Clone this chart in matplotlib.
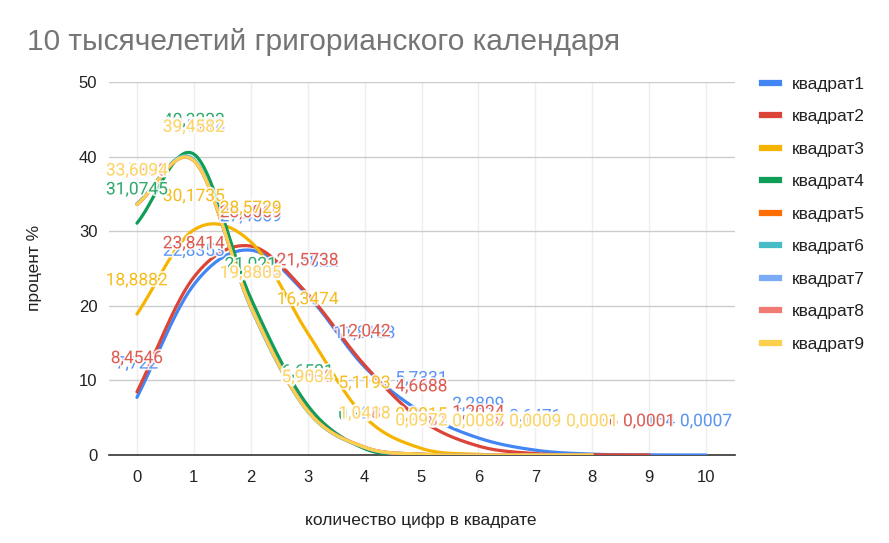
"""
Распределение количества цифр в квадрате
за 10 тысячелетий григорианского календаря.
"""
import numpy as np
import matplotlib
matplotlib.use("Agg")
import matplotlib.pyplot as plt
import matplotlib.patheffects as pe
from matplotlib.lines import Line2D

# данные (процент)
title = "10 тысячелетий григорианского календаря"
x_name = "количество цифр в квадрате"
y_name = "процент %"
x_ticks = [0, 1, 2, 3, 4, 5, 6, 7, 8, 9, 10]
y_ticks = [0, 10, 20, 30, 40, 50]

names = ["квадрат1", "квадрат2", "квадрат3", "квадрат4", "квадрат5",
         "квадрат6", "квадрат7", "квадрат8", "квадрат9"]
colors = ["#4285F4", "#DB4437", "#F4B400", "#0F9D58", "#FF6D01",
          "#46BDC6", "#7BAAF7", "#F07B72", "#FCD04F"]

sq1 = [7.722, 22.8353, 27.4569, 21.3822, 11.8123, 5.7331, 2.2809, 0.6471, 0.1141, 0.0154, 0.0007]
sq2 = [8.4546, 23.8414, 28.0069, 21.5738, 12.042, 4.6688, 1.2024, 0.1914, 0.0186, 0.0001]
sq3 = [18.8882, 30.1735, 28.5729, 16.3474, 5.1193, 0.8815, 0.0891, 0.0072, 0.0001]
sq4 = [31.0745, 40.3333, 21.021, 6.6521, 0.8488, 0.0652, 0.0048, 0.0003, 0.0001]
sq5 = [33.6094, 39.4582, 19.8805, 5.9034, 1.0418, 0.0972, 0.0087, 0.0009, 0.0001]
sq6 = [33.7012, 39.6021, 19.7511, 5.8517, 1.0035, 0.0903, 0.0081, 0.0008, 0.0001]
sq7 = [33.6517, 39.5034, 19.8482, 5.9011, 1.0208, 0.0921, 0.0083, 0.0008, 0.0001]
sq8 = [33.5833, 39.4217, 19.9034, 5.9508, 1.0488, 0.0981, 0.0088, 0.0009, 0.0001]
sq9 = [33.6094, 39.4582, 19.8805, 5.9034, 1.0418, 0.0972, 0.0087, 0.0009, 0.0001]
series = [sq1, sq2, sq3, sq4, sq5, sq6, sq7, sq8, sq9]

FONT = ["Liberation Sans", "DejaVu Sans"]
plt.rcParams["font.family"] = FONT


# сглаживание как в Google Таблицах (Catmull-Rom)
def smooth(vals, n=30):
    p = np.asarray(vals, dtype=float)
    m = np.empty_like(p)
    m[1:-1] = (p[2:] - p[:-2]) / 2
    m[0] = p[1] - p[0]
    m[-1] = p[-1] - p[-2]
    xs, ys = [], []
    t = np.linspace(0, 1, n)
    h00 = 2 * t**3 - 3 * t**2 + 1
    h10 = t**3 - 2 * t**2 + t
    h01 = -2 * t**3 + 3 * t**2
    h11 = t**3 - t**2
    for i in range(len(p) - 1):
        xs.append(i + t)
        ys.append(h00 * p[i] + h10 * m[i] + h01 * p[i + 1] + h11 * m[i + 1])
    return np.concatenate(xs), np.concatenate(ys)


def fmt(v):
    return f"{v:.4f}".rstrip("0").rstrip(".").replace(".", ",")


fig = plt.figure(figsize=(8.89, 5.43), dpi=100)
ax = fig.add_axes([108.5 / 889, 1 - 455 / 543, 626 / 889, 373 / 543])

for k, vals in enumerate(series):
    sx, sy = smooth(vals)
    ax.plot(sx, sy, color=colors[k], lw=2.3, solid_capstyle="round", zorder=3)

# подписи значений над точками
for k, vals in enumerate(series):
    for i, v in enumerate(vals):
        ax.annotate(fmt(v), (i, v), xytext=(0, 24),
                    textcoords="offset points", ha="center", va="center",
                    fontsize=12.5, family=["Roboto", "DejaVu Sans"],
                    color=colors[k], alpha=0.85, zorder=5, annotation_clip=False,
                    path_effects=[pe.withStroke(linewidth=2.5, foreground="white")])

ax.set_xlim(-0.5, 10.5)
ax.set_ylim(0, 50)
ax.set_xticks(x_ticks)
ax.set_yticks(y_ticks)
ax.tick_params(length=0, labelsize=12, colors="#222222")
ax.tick_params(axis="x", pad=11)
ax.tick_params(axis="y", pad=8)
ax.grid(axis="y", color="#cccccc", lw=1)
ax.grid(axis="x", color="#eeeeee", lw=1)
ax.set_axisbelow(True)
for s in ["top", "right", "left"]:
    ax.spines[s].set_visible(False)
ax.spines["bottom"].set_color("#333333")
ax.spines["bottom"].set_linewidth(1.2)

fig.text(27 / 889, 1 - 42 / 543, title, fontsize=21.5, color="#757575",
         ha="left", va="center")
fig.text(35 / 889, 1 - 268 / 543, y_name, fontsize=12.5, color="#222222",
         rotation=90, ha="center", va="center")
fig.text(421 / 889, 1 - 520 / 543, x_name, fontsize=12.5, color="#222222",
         ha="center", va="center")

handles = [Line2D([], [], color=c, lw=4.5) for c in colors]
fig.legend(handles, names, loc="upper left", bbox_to_anchor=(746 / 889, 1 - 61 / 543),
           frameon=False, fontsize=12.5, handlelength=1.0, handletextpad=0.75,
           labelspacing=1.0, labelcolor="#222222")

fig.savefig("out.png", dpi=100)
